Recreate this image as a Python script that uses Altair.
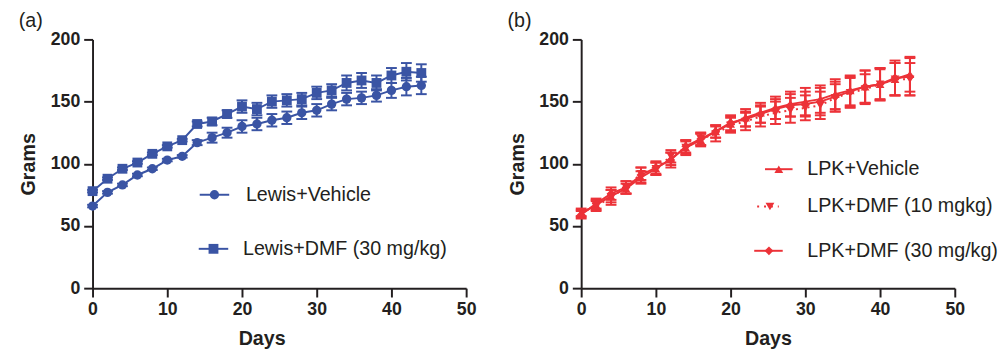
import altair as alt
import pandas as pd

days = [0, 2, 4, 6, 8, 10, 12, 14, 16, 18, 20, 22, 24, 26, 28, 30, 32, 34, 36, 38, 40, 42, 44]

# Panel (a)
lewis_vehicle = [66, 77, 83, 91, 96, 103, 106, 117, 121, 125, 130, 132, 135, 137, 141, 143, 148, 152, 153, 155, 159, 162, 163]
lewis_vehicle_err = [1, 1, 1, 1, 1, 1, 1, 2, 4, 4, 5, 5, 5, 5, 5, 5, 5, 5, 5, 5, 6, 7, 7]
lewis_dmf = [78, 88, 96, 101, 108, 114, 119, 132, 134, 140, 146, 144, 150, 151, 152, 157, 159, 165, 167, 165, 171, 174, 173]
lewis_dmf_err = [1, 1, 1, 1, 1, 1, 1, 2, 3, 3, 5, 5, 5, 5, 5, 5, 5, 6, 6, 6, 6, 7, 7]

# Panel (b)
lpk_vehicle = [60, 67, 74, 80, 89, 96, 104, 113, 119, 126, 132, 137, 141, 145, 148, 150, 152, 156, 159, 162, 164, 168, 172]
lpk_vehicle_err = [3, 4, 5, 4, 5, 5, 5, 5, 5, 5, 6, 7, 8, 9, 10, 11, 11, 12, 12, 13, 13, 13, 14]
lpk_dmf10 = [61, 66, 73, 81, 92, 96, 106, 113, 120, 124, 131, 134, 138, 141, 143, 145, 147, 153, 157, 160, 164, 168, 168]
lpk_dmf10_err = [3, 4, 6, 5, 5, 5, 5, 6, 5, 6, 6, 7, 8, 9, 10, 10, 11, 11, 12, 12, 12, 13, 13]
lpk_dmf30 = [59, 68, 76, 81, 91, 97, 103, 114, 120, 126, 133, 136, 140, 144, 147, 148, 150, 154, 158, 162, 164, 169, 170]
lpk_dmf30_err = [3, 4, 5, 5, 6, 5, 6, 5, 5, 5, 6, 6, 7, 8, 9, 10, 11, 12, 12, 13, 13, 14, 15]

BLUE = "#3A54A4"
RED = "#EC3238"
INK = "#231F20"
FONT = "Liberation Sans"

W, H = 380, 253
CAP = "M-1,0L1,0"


def series_df(name, vals, errs):
    return pd.DataFrame({
        "series": name, "day": days, "g": vals,
        "lo": [v - e for v, e in zip(vals, errs)],
        "hi": [v + e for v, e in zip(vals, errs)],
    })


def make_x(title_x=None):
    ax = dict(values=[0, 10, 20, 30, 40, 50], offset=0, labelFlush=False)
    if title_x is not None:
        ax["titleX"] = title_x
    return alt.X("day:Q", scale=alt.Scale(domain=[0, 50], nice=False, padding=0), title="Days",
                 axis=alt.Axis(**ax))


yenc = alt.Y("g:Q", scale=alt.Scale(domain=[0, 200], nice=False, padding=0), title="Grams",
             axis=alt.Axis(values=[0, 50, 100, 150, 200], offset=0, labelFlush=False))


def series_layers(df, color, shape, size, xenc, dash=None):
    base = alt.Chart(df)
    line_kw = dict(color=color, strokeWidth=2)
    if dash:
        line_kw["strokeDash"] = dash
    line = base.mark_line(**line_kw).encode(x=xenc, y=yenc)
    rule = base.mark_rule(color=color, strokeWidth=2).encode(x="day:Q", y="lo:Q", y2="hi:Q")
    cap_lo = base.mark_point(shape=CAP, filled=False, opacity=1, color=color, strokeWidth=2, size=121).encode(
        x="day:Q", y="lo:Q")
    cap_hi = base.mark_point(shape=CAP, filled=False, opacity=1, color=color, strokeWidth=2, size=121).encode(
        x="day:Q", y="hi:Q")
    pts = base.mark_point(shape=shape, filled=True, opacity=1, color=color, size=size).encode(x="day:Q", y="g:Q")
    return [line, rule, cap_lo, cap_hi, pts]


def legend_entry(label, color, shape, size, x1, x2, xm, y, xt, dash=None):
    d = alt.InlineData(values=[{"label": label}])
    base = alt.Chart(d)
    rule_kw = dict(color=color, strokeWidth=2)
    if dash:
        rule_kw["strokeDash"] = dash
    rule = base.mark_rule(**rule_kw).encode(x=alt.value(x1), x2=alt.value(x2), y=alt.value(y))
    pt = base.mark_point(shape=shape, filled=True, opacity=1, color=color, size=size).encode(
        x=alt.value(xm), y=alt.value(y))
    txt = base.mark_text(align="left", baseline="middle", font=FONT, fontSize=20, color=INK).encode(
        x=alt.value(xt), y=alt.value(y), text="label:N")
    return [rule, pt, txt]


# Panel (a)
xa = make_x(172)
layers_a = []
layers_a += series_layers(series_df("Lewis+Vehicle", lewis_vehicle, lewis_vehicle_err), BLUE, "circle", 90, xa)
layers_a += series_layers(series_df("Lewis+DMF (30 mg/kg)", lewis_dmf, lewis_dmf_err), BLUE, "square", 100, xa)
layers_a += legend_entry("Lewis+Vehicle", BLUE, "circle", 90, 109, 139, 124, 158, 156)
layers_a += legend_entry("Lewis+DMF (30 mg/kg)", BLUE, "square", 100, 108, 138, 123, 213, 153)

title_props = dict(anchor="start", font=FONT, fontSize=20, fontWeight="normal", color=INK,
                   frame="bounds", offset=0)

panel_a = alt.layer(*layers_a).properties(
    width=W, height=H, title=alt.TitleParams("(a)", **title_props))

# Panel (b)
xb = make_x()
layers_b = []
layers_b += series_layers(series_df("LPK+Vehicle", lpk_vehicle, lpk_vehicle_err), RED, "triangle-up", 80, xb)
layers_b += series_layers(series_df("LPK+DMF (10 mgkg)", lpk_dmf10, lpk_dmf10_err), RED, "triangle-down", 80, xb, dash=[2, 4])
layers_b += series_layers(series_df("LPK+DMF (30 mg/kg)", lpk_dmf30, lpk_dmf30_err), RED, "diamond", 80, xb)
layers_b += legend_entry("LPK+Vehicle", RED, "triangle-up", 80, 187, 215, 201, 132, 230)
layers_b += legend_entry("LPK+DMF (10 mgkg)", RED, "triangle-down", 80, 179, 201, 192, 170, 230, dash=[2, 5])
layers_b += legend_entry("LPK+DMF (30 mg/kg)", RED, "diamond", 80, 176, 205, 191, 215, 230)

panel_b = alt.layer(*layers_b).properties(
    width=W, height=H, title=alt.TitleParams("(b)", **title_props))

chart = alt.hconcat(panel_a, panel_b, spacing=30).configure_view(stroke=None).configure_axis(
    grid=False, domainColor=INK, domainWidth=2, tickColor=INK, tickWidth=2, tickSize=9,
    labelFont=FONT, labelFontSize=18, labelFontWeight="bold", labelColor=INK, labelPadding=4,
    titleFont=FONT, titleFontSize=20, titleFontWeight="bold", titleColor=INK,
).configure_axisY(titlePadding=12).configure_axisX(titlePadding=10).properties(
    padding={"left": 10, "top": 0, "right": 2, "bottom": 2}
)

chart.save("out.html", embed_options={"renderer": "svg", "actions": False})
